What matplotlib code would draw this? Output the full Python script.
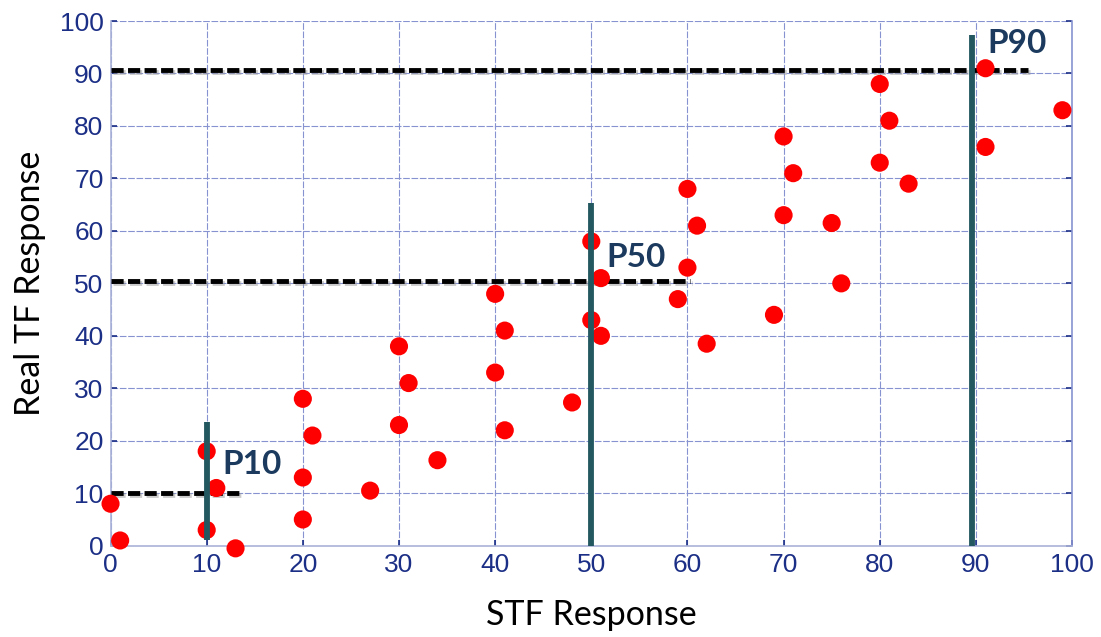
import matplotlib.pyplot as plt
import matplotlib.patheffects as pe

# scatter data
stf = [0, 1, 10, 11, 10, 13, 20, 21, 20, 20, 27, 30, 31, 30, 34,
       40, 41, 40, 41, 48, 50, 51, 50, 51, 60, 61, 60, 59, 62,
       70, 71, 70, 69, 75, 76, 80, 81, 80, 83, 91, 91, 99]
real_tf = [8, 1, 18, 11, 3, -0.5, 28, 21, 13, 5, 10.5, 38, 31, 23, 16.3,
           48, 41, 33, 22, 27.3, 58, 51, 43, 40, 68, 61, 53, 47, 38.5,
           78, 71, 63, 44, 61.5, 50, 88, 81, 73, 69, 91, 76, 83]

# percentile markers
p_names = ["P10", "P50", "P90"]
p_x = [10, 50, 89.6]          # vertical line position
p_y = [10, 50.4, 90.7]        # horizontal dashed line level
p_hline_end = [13.7, 60.3, 95.4]
p_vline_span = [(1, 23.5), (0, 65.3), (0, 97.4)]
p_label_xy = [(11.6, 15.4), (51.6, 55), (91.2, 95.8)]

ticks = list(range(0, 101, 10))

navy = '#1c2f86'
grid_col = '#8793d0'

fig = plt.figure(figsize=(11.01, 6.37), dpi=100)
ax = fig.add_axes([0.1004, 0.1433, 0.8733, 0.8237])

ax.set_xlim(0, 100)
ax.set_ylim(0, 100)
ax.set_xticks(ticks)
ax.set_yticks(ticks)
ax.grid(True, color=grid_col, linewidth=0.8, linestyle=(0, (6, 1.5)))
ax.set_axisbelow(True)

for s in ax.spines.values():
    s.set_color('#aab3d8')
    s.set_linewidth(1.2)
ax.spines['right'].set_color(grid_col)
ax.spines['top'].set_visible(False)

ax.tick_params(direction='in', length=4, width=1.2, color=navy,
               labelcolor=navy, labelsize=19, top=False, right=True, pad=5)
for lbl in ax.get_xticklabels() + ax.get_yticklabels():
    lbl.set_fontfamily('Liberation Sans')

shadow = [pe.SimpleLineShadow(offset=(1.5, -1.5), shadow_color='#999999', alpha=0.5), pe.Normal()]

for i in range(len(p_names)):
    ax.plot([0, p_hline_end[i]], [p_y[i], p_y[i]], color='black', lw=3.5,
            linestyle=(0, (2.5, 0.9)), zorder=3, clip_on=False, path_effects=shadow)

ax.scatter(stf, real_tf, s=170, color='#ff0000', edgecolors='none', zorder=4, clip_on=False)

for i in range(len(p_names)):
    y0, y1 = p_vline_span[i]
    ax.plot([p_x[i], p_x[i]], [y0, y1], color='#245860', lw=4.2, zorder=5,
            solid_capstyle='butt', clip_on=False)
    ax.text(p_label_xy[i][0], p_label_xy[i][1], p_names[i], fontsize=24,
            fontweight='bold', family='Lato', color='#1b3a5e', va='center', ha='left', zorder=6)

ax.set_xlabel("STF Response", fontsize=24.5, family='Lato', labelpad=16)
ax.set_ylabel("Real TF Response", fontsize=24.5, family='Lato', labelpad=10)

fig.savefig("out.png", dpi=100)
